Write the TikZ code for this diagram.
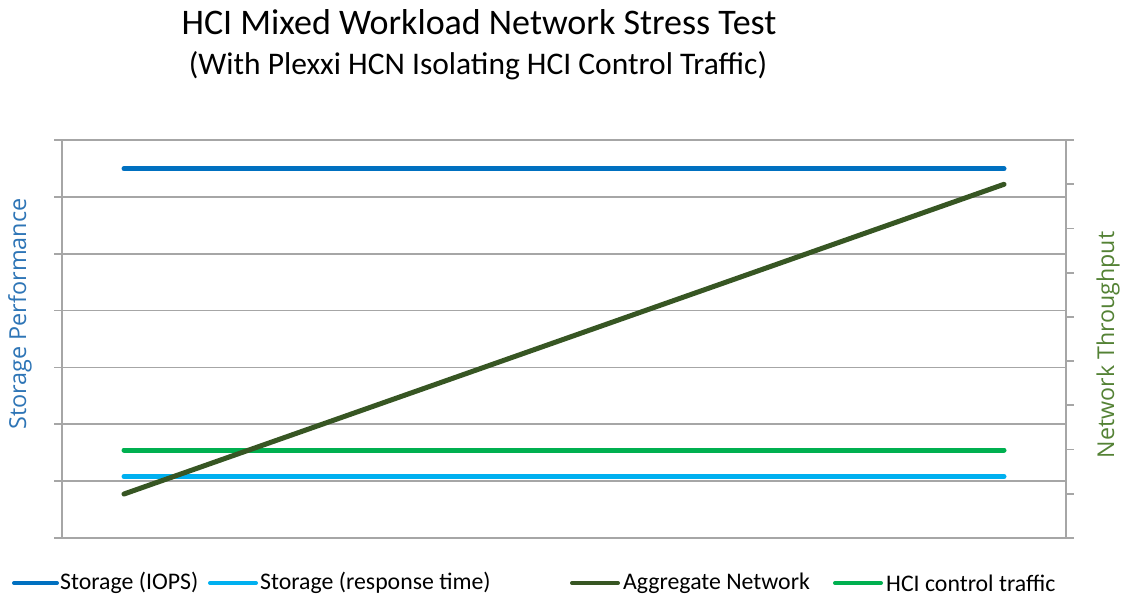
\documentclass[tikz,border=0pt]{standalone}
\usepackage{fontspec}
\setmainfont{Carlito}
\newfontfamily\axisfont{Open Sans}
\definecolor{iops}{HTML}{0070C0}
\definecolor{resp}{HTML}{00B0F0}
\definecolor{aggr}{HTML}{375623}
\definecolor{hcic}{HTML}{00B050}
\definecolor{gridc}{HTML}{A6A6A6}
\definecolor{ltitle}{HTML}{2E75B6}
\definecolor{rtitle}{HTML}{548235}
\begin{document}
\begin{tikzpicture}[x=1pt,y=-1pt,
  gridline/.style={draw=gridc,line width=1.8pt},
  series/.style={line width=5pt,line cap=round},
  legtext/.style={anchor=west,inner sep=0pt,font=\fontsize{23.8}{27}\selectfont},
  every node/.style={inner sep=0pt}]
\useasboundingbox (0,0) rectangle (1124,600);
% title
\node (title) at (479,22) {\fontsize{36}{40}\selectfont HCI Mixed Workload Network Stress Test};
\node (subtitle) at (478,66) {\fontsize{31.5}{35}\selectfont (With Plexxi HCN Isolating HCI Control Traffic)};
% gridlines and left ticks
\foreach \i in {0,...,7} {
  \draw[gridline] (54,{140+\i*56.857}) -- (1066,{140+\i*56.857});
}
\draw[gridline] (1066,140) -- (1074,140);
\draw[gridline] (1066,538) -- (1074,538);
% axes
\draw[gridline] (62,140) -- (62,538);
\draw[gridline] (1066,140) -- (1066,538);
\foreach \k in {1,...,8} {
  \draw[gridline] (1066,{140+\k*44.222}) -- (1074,{140+\k*44.222});
}
% axis titles
\node[rotate=90,text=ltitle,font=\axisfont\fontsize{23.4}{27}\selectfont] (ytitle) at (20,314) {Storage Performance};
\node[rotate=90,text=rtitle,font=\axisfont\fontsize{23.2}{27}\selectfont] (y2title) at (1108,345) {Network Throughput};
% series
\coordinate (iopsA) at (124,168.7); \coordinate (iopsB) at (1004,168.7);
\coordinate (respA) at (124,476.5); \coordinate (respB) at (1004,476.5);
\coordinate (hciA) at (124,450); \coordinate (hciB) at (1004,450);
\coordinate (aggA) at (124,494); \coordinate (aggB) at (1004,184.3);
\draw[series,iops] (iopsA) -- (iopsB);
\draw[series,resp] (respA) -- (respB);
\draw[series,hcic] (hciA) -- (hciB);
\draw[series,aggr] (aggA) -- (aggB);
% legend
\coordinate (l1a) at (14,583); \coordinate (l1b) at (57,583);
\coordinate (l2a) at (210,583); \coordinate (l2b) at (256,583);
\coordinate (l3a) at (572,583); \coordinate (l3b) at (618,583);
\coordinate (l4a) at (835,583); \coordinate (l4b) at (881,583);
\draw[series,iops,line width=4pt] (l1a) -- (l1b);
\draw[series,resp,line width=4pt] (l2a) -- (l2b);
\draw[series,aggr,line width=4pt] (l3a) -- (l3b);
\draw[series,hcic,line width=4pt] (l4a) -- (l4b);
\node[legtext] (t1) at (60,583) {Storage (IOPS)};
\node[legtext] (t2) at (260,583) {Storage (response time)};
\node[legtext] (t3) at (623,583) {Aggregate Network};
\node[legtext] (t4) at (886,583) {HCI control traffic};
\end{tikzpicture}
\end{document}
